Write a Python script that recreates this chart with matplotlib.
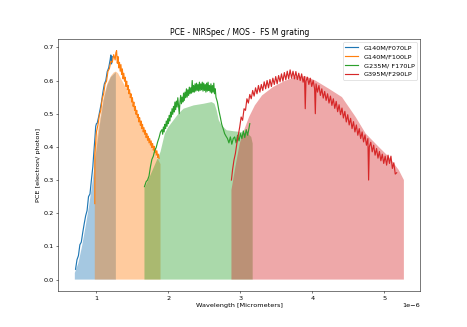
import numpy as np
import matplotlib
matplotlib.use('Agg')
import matplotlib.pyplot as plt

# Curvas medidas (longitud de onda en micrómetros, PCE)
blue_x = [0.71, 0.73, 0.75, 0.77, 0.79, 0.81, 0.83, 0.85, 0.87, 0.89, 0.91, 0.93,
          0.95, 0.96, 0.98, 0.99, 1.00, 1.01, 1.03, 1.05, 1.07, 1.09, 1.11, 1.13,
          1.15, 1.17, 1.19, 1.20, 1.21, 1.22]
blue_y = [0.031, 0.06, 0.072, 0.105, 0.113, 0.142, 0.168, 0.192, 0.208, 0.25, 0.258, 0.30,
          0.34, 0.372, 0.43, 0.462, 0.47, 0.471, 0.49, 0.512, 0.535, 0.565, 0.59, 0.60,
          0.627, 0.638, 0.662, 0.677, 0.65, 0.672]

orange_x = [0.977, 0.978, 0.99, 1.00, 1.02, 1.04, 1.06, 1.08, 1.10, 1.12, 1.14, 1.16,
            1.18, 1.20, 1.22, 1.24, 1.26, 1.27, 1.28, 1.29, 1.30, 1.31, 1.32, 1.33,
            1.34, 1.35, 1.36, 1.37, 1.38, 1.39, 1.40, 1.41, 1.42, 1.43, 1.44, 1.45,
            1.46, 1.47, 1.48, 1.49, 1.50, 1.51, 1.52, 1.53, 1.54, 1.55, 1.56, 1.57,
            1.58, 1.59, 1.60, 1.61, 1.62, 1.63, 1.64, 1.65, 1.66, 1.67, 1.68, 1.69,
            1.70, 1.71, 1.72, 1.73, 1.74, 1.75, 1.76, 1.77, 1.78, 1.79, 1.80, 1.81,
            1.82, 1.83, 1.84, 1.85, 1.86, 1.87]
orange_y = [0.229, 0.38, 0.415, 0.445, 0.465, 0.495, 0.51, 0.545, 0.56, 0.59, 0.598, 0.628,
            0.636, 0.658, 0.655, 0.678, 0.662, 0.684, 0.69, 0.652, 0.672, 0.638, 0.655, 0.628,
            0.648, 0.618, 0.635, 0.605, 0.622, 0.598, 0.61, 0.582, 0.598, 0.572, 0.585, 0.56,
            0.572, 0.548, 0.56, 0.535, 0.548, 0.522, 0.535, 0.51, 0.522, 0.498, 0.51, 0.488,
            0.498, 0.475, 0.488, 0.465, 0.478, 0.455, 0.468, 0.445, 0.458, 0.438, 0.45, 0.428,
            0.44, 0.42, 0.432, 0.412, 0.425, 0.405, 0.418, 0.398, 0.41, 0.39, 0.402, 0.382,
            0.395, 0.375, 0.388, 0.368, 0.378, 0.365]

green_x = [1.667, 1.69, 1.71, 1.73, 1.75, 1.77, 1.79, 1.81, 1.83, 1.85, 1.87, 1.89,
           1.91, 1.92, 1.93, 1.94, 1.95, 1.96, 1.97, 1.98, 1.99, 2.00, 2.01, 2.02,
           2.03, 2.04, 2.05, 2.06, 2.07, 2.08, 2.09, 2.10, 2.11, 2.12, 2.13, 2.14,
           2.15, 2.16, 2.17, 2.18, 2.19, 2.20, 2.21, 2.22, 2.23, 2.24, 2.25, 2.26,
           2.27, 2.28, 2.29, 2.30, 2.31, 2.32, 2.33, 2.34, 2.35, 2.36, 2.37, 2.38,
           2.39, 2.40, 2.41, 2.42, 2.43, 2.44, 2.45, 2.46, 2.47, 2.48, 2.49, 2.50,
           2.51, 2.52, 2.53, 2.54, 2.55, 2.56, 2.57, 2.58, 2.59, 2.60, 2.61, 2.62,
           2.63, 2.64, 2.65, 2.66, 2.68, 2.70, 2.72, 2.74, 2.76, 2.78, 2.80, 2.82,
           2.84, 2.86, 2.88, 2.90, 2.92, 2.94, 2.96, 2.98, 3.00, 3.02, 3.04, 3.06,
           3.08, 3.10, 3.12, 3.13]
green_y = [0.28, 0.295, 0.30, 0.312, 0.34, 0.362, 0.372, 0.39, 0.398, 0.415, 0.428, 0.445,
           0.452, 0.438, 0.46, 0.445, 0.468, 0.455, 0.478, 0.462, 0.485, 0.47, 0.495, 0.478,
           0.505, 0.49, 0.515, 0.498, 0.522, 0.505, 0.535, 0.512, 0.538, 0.52, 0.548, 0.525,
           0.50, 0.535, 0.555, 0.53, 0.55, 0.535, 0.562, 0.54, 0.565, 0.548, 0.575, 0.55,
           0.572, 0.555, 0.58, 0.56, 0.578, 0.562, 0.60, 0.565, 0.585, 0.565, 0.59, 0.568,
           0.592, 0.57, 0.588, 0.568, 0.595, 0.57, 0.59, 0.572, 0.595, 0.568, 0.592, 0.57,
           0.588, 0.565, 0.592, 0.568, 0.595, 0.57, 0.585, 0.565, 0.59, 0.562, 0.585, 0.565,
           0.592, 0.56, 0.575, 0.55, 0.535, 0.51, 0.49, 0.468, 0.455, 0.44, 0.432, 0.425,
           0.412, 0.43, 0.408, 0.425, 0.43, 0.412, 0.435, 0.418, 0.44, 0.425, 0.448, 0.428,
           0.452, 0.435, 0.458, 0.47]

red_x = [2.875, 2.89, 2.91, 2.93, 2.95, 2.97, 2.99, 3.01, 3.03, 3.05, 3.07, 3.09,
         3.11, 3.13, 3.15, 3.17, 3.19, 3.21, 3.23, 3.25, 3.27, 3.29, 3.31, 3.33,
         3.35, 3.37, 3.39, 3.41, 3.43, 3.45, 3.47, 3.49, 3.51, 3.53, 3.55, 3.57,
         3.59, 3.61, 3.63, 3.65, 3.67, 3.69, 3.71, 3.73, 3.75, 3.77, 3.79, 3.81,
         3.83, 3.85, 3.87, 3.89, 3.90, 3.91, 3.93, 3.95, 3.97, 3.99, 4.01, 4.03,
         4.04, 4.05, 4.07, 4.09, 4.11, 4.13, 4.15, 4.17, 4.19, 4.21, 4.23, 4.25,
         4.27, 4.29, 4.31, 4.33, 4.35, 4.37, 4.39, 4.41, 4.43, 4.45, 4.47, 4.49,
         4.51, 4.53, 4.55, 4.57, 4.59, 4.61, 4.63, 4.65, 4.67, 4.69, 4.71, 4.73,
         4.75, 4.77, 4.78, 4.79, 4.81, 4.83, 4.85, 4.87, 4.89, 4.91, 4.93, 4.95,
         4.97, 4.99, 5.01, 5.03, 5.05, 5.07, 5.09, 5.11, 5.13, 5.15, 5.17]
red_y = [0.30, 0.33, 0.36, 0.38, 0.41, 0.435, 0.46, 0.49, 0.48, 0.515, 0.51, 0.545,
         0.532, 0.558, 0.545, 0.57, 0.553, 0.578, 0.56, 0.585, 0.565, 0.588, 0.57, 0.596,
         0.575, 0.60, 0.578, 0.603, 0.582, 0.607, 0.588, 0.612, 0.59, 0.615, 0.596, 0.62,
         0.598, 0.624, 0.602, 0.628, 0.605, 0.632, 0.607, 0.628, 0.605, 0.627, 0.603, 0.622,
         0.60, 0.62, 0.595, 0.612, 0.515, 0.598, 0.61, 0.588, 0.607, 0.582, 0.60, 0.575,
         0.50, 0.59, 0.565, 0.585, 0.555, 0.575, 0.547, 0.567, 0.54, 0.56, 0.532, 0.553,
         0.525, 0.545, 0.516, 0.537, 0.506, 0.527, 0.497, 0.517, 0.487, 0.507, 0.475, 0.497,
         0.466, 0.486, 0.455, 0.476, 0.445, 0.466, 0.435, 0.455, 0.425, 0.445, 0.415, 0.436,
         0.405, 0.425, 0.30, 0.40, 0.414, 0.385, 0.405, 0.375, 0.395, 0.366, 0.386, 0.358,
         0.378, 0.35, 0.372, 0.345, 0.375, 0.35, 0.372, 0.335, 0.352, 0.318, 0.322]

# Curvas nominales (rellenos)
blue_fx = [0.70, 0.75, 0.80, 0.85, 0.90, 0.95, 0.98, 1.05, 1.10, 1.15, 1.20, 1.27]
blue_fy = [0.02, 0.05, 0.10, 0.16, 0.225, 0.30, 0.36, 0.47, 0.54, 0.585, 0.61, 0.625]

orange_fx = [0.977, 1.05, 1.10, 1.15, 1.20, 1.24, 1.27, 1.30, 1.33, 1.43, 1.52, 1.61, 1.70, 1.80, 1.89]
orange_fy = [0.39, 0.485, 0.55, 0.59, 0.613, 0.624, 0.627, 0.622, 0.61, 0.57, 0.52, 0.465, 0.425, 0.385, 0.348]

green_fx = [1.667, 1.72, 1.80, 1.89, 1.95, 2.00, 2.07, 2.14, 2.21, 2.35, 2.49, 2.60,
            2.64, 2.67, 2.70, 2.74, 2.81, 2.91, 3.00, 3.10, 3.15, 3.17]
green_fy = [0.275, 0.30, 0.34, 0.385, 0.44, 0.46, 0.48, 0.50, 0.515, 0.525, 0.53, 0.535,
            0.53, 0.51, 0.48, 0.464, 0.45, 0.447, 0.445, 0.44, 0.43, 0.41]

red_fx = [2.875, 2.93, 2.99, 3.05, 3.12, 3.20, 3.30, 3.45, 3.60, 3.75, 3.90, 4.04, 4.23,
          4.41, 4.60, 4.74, 4.92, 5.06, 5.20, 5.27]
red_fy = [0.27, 0.34, 0.41, 0.45, 0.49, 0.525, 0.555, 0.58, 0.597, 0.61, 0.613, 0.60, 0.575,
          0.55, 0.49, 0.44, 0.40, 0.37, 0.33, 0.30]

labels = ['G140M/F070LP', 'G140M/F100LP', 'G235M/ F170LP', 'G395M/F290LP']

fig, ax = plt.subplots(figsize=(10.001, 7.003), dpi=46.7)

lines = [(blue_x, blue_y), (orange_x, orange_y), (green_x, green_y), (red_x, red_y)]
fills = [(blue_fx, blue_fy), (orange_fx, orange_fy), (green_fx, green_fy), (red_fx, red_fy)]

for (lx, ly), lab in zip(lines, labels):
    ax.plot(np.array(lx) * 1e-6, ly, label=lab, lw=1.8)
for fx, fy in fills:
    ax.fill_between(np.array(fx) * 1e-6, fy, alpha=0.4)

plt.title('PCE - NIRSpec / MOS -  FS M grating')
plt.xlabel('Wavelength [Micrometers]')
plt.ylabel('PCE [electron/ photon]')
plt.legend(loc='upper right')
plt.savefig('out.png', dpi=46.7)
